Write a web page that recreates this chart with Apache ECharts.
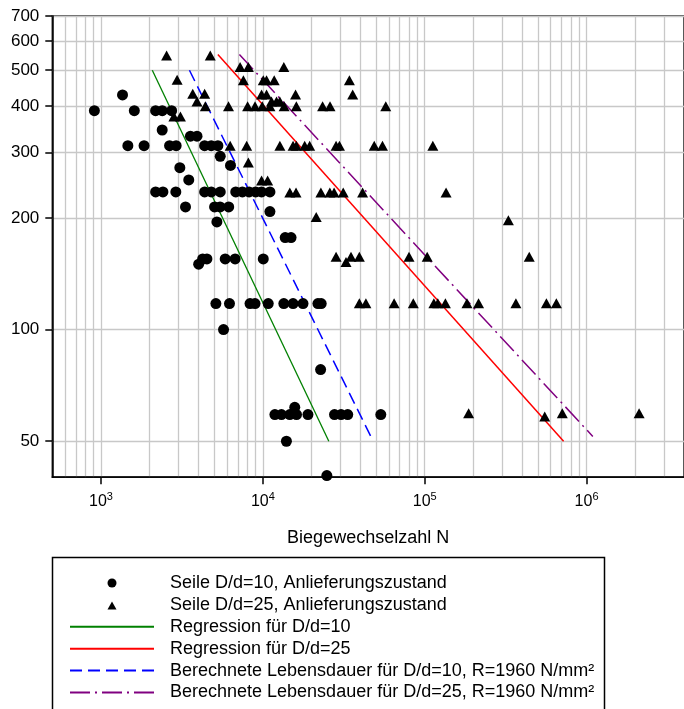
<!DOCTYPE html>
<html><head><meta charset="utf-8">
<script src="https://cdn.jsdelivr.net/npm/echarts@6/dist/echarts.min.js"></script>
<style>html,body{margin:0;padding:0;background:#fff}#c{width:684px;height:709px}</style>
</head><body><div id="c"></div>
<script>
// ---- axis values ----
const xLabelTicks = [1e3, 1e4, 1e5, 1e6];
const xGridValues = [600,700,800,900,
  1000,2000,3000,4000,5000,6000,7000,8000,9000,
  10000,20000,30000,40000,50000,60000,70000,80000,90000,
  100000,200000,300000,400000,500000,600000,700000,800000,900000,
  1000000,2000000,3000000];
const yLabelTicks = [50, 100, 200, 300, 400, 500, 600, 700];

// ---- series names ----
const names = [
  'Seile D/d=10, Anlieferungszustand',
  'Seile D/d=25, Anlieferungszustand',
  'Regression für D/d=10',
  'Regression für D/d=25',
  'Berechnete Lebensdauer für D/d=10, R=1960 N/mm²',
  'Berechnete Lebensdauer für D/d=25, R=1960 N/mm²'
];

// ---- data: [Biegewechselzahl N, stress] ----
const seile10 = [
  [910,389],[1358,429],[1606,389],[2174,389],[2390,389],[2730,389],
  [2388,345],[3568,332],[3918,332],
  [1465,313],[1845,313],[2652,313],[2912,313],[4365,313],[4797,313],[5272,313],
  [5453,293],[6310,277],[3069,273],[3484,253],
  [2175,235],[2412,235],[2899,235],[4368,235],[4801,235],[5453,235],[6798,235],
  [7472,235],[8216,235],[9020,235],[9817,235],[11056,235],
  [3327,214],[5031,214],[5440,214],[6150,214],[11056,208],[5200,195],
  [13740,177],[14930,177],
  [4012,150],[4246,155],[4511,155],[5852,155],[6740,155],[10058,155],
  [5125,117.5],[6220,117.5],[8332,117.5],[8944,117.5],[10792,117.5],[13474,117.5],
  [15369,117.5],[17701,117.5],[21885,117.5],[22932,117.5],
  [5714,100],[22740,78],
  [11867,59],[13024,59],[14671,59],[16140,59],[18990,59],[27710,59],[30420,59],
  [33440,59],[53550,59],[15740,61.7],
  [13980,50],[24850,40.4]
];
const seile25 = [
  [2542,548],[4732,548],[2953,471],[3687,432],[4368,432],[3917,412],
  [2820,375],[3095,375],
  [4411,400],[6133,400],[8050,400],[8944,400],[9915,400],[11056,400],[13534,400],
  [16100,400],[23390,400],[26000,400],[57460,400],
  [7234,510],[8135,510],[13475,510],
  [7580,470],[10058,470],[10537,470],[11749,470],[34250,470],
  [9817,430],[10537,430],[15920,430],[35890,430],
  [11310,412],[12140,412],[12740,412],
  [6281,313],[7943,313],[12740,313],[15370,313],[16100,313],[18130,313],[19460,313],
  [28340,313],[29730,313],[48760,313],[54830,313],[112260,313],
  [8135,282],[9817,252],[10700,252],
  [14670,234],[16030,234],[22830,234],[25930,234],[27550,234],[31370,234],
  [41330,234],[135500,234],
  [21360,201],[328800,197],
  [28340,157],[35040,157],[39450,157],[79980,157],[103600,157],[442400,157],[32640,152],
  [39450,117.7],[43310,117.7],[64710,117.7],[85000,117.7],[113900,117.7],[120500,117.7],
  [134200,117.7],[182400,117.7],[215100,117.7],[366000,117.7],[564900,117.7],[650800,117.7],
  [186800,59.5],[708000,59.5],[2112000,59.5],[551500,58.3]
];
const regression10 = [[2074,500],[25560,50]];
const regression25 = [[5272,551],[721400,50]];
const calc10 = [[3518,500],[46480,51.5]];
const calc25 = [[7163,551],[1093000,51.5]];

const FONT = 'Liberation Sans, Arial, sans-serif';
const GRID = '#c8c8c8';
// legend triangle icon padded to the full legend item box so it is not stretched
const TRI_ICON = 'path://M0,0L0,0ZM84,0L84,0ZM42,1L46.5,9L37.5,9Z';

const chart = echarts.init(document.getElementById('c'), null, {renderer: 'canvas'});
chart.setOption({
  animation: false,
  backgroundColor: '#fff',
  textStyle: {fontFamily: FONT},
  grid: {left: 52.3, right: -4.1, top: 16, bottom: 231.8, show: true,
         borderColor: '#222', borderWidth: 1.5, backgroundColor: 'transparent'},
  xAxis: [{
    type: 'log', logBase: 10, min: 500, max: 4e6,
    axisLine: {show: true, lineStyle: {color: '#000', width: 1.5}},
    axisTick: {show: true, inside: false, length: 7, customValues: xLabelTicks,
               lineStyle: {color: '#000', width: 1.5}},
    axisLabel: {customValues: xLabelTicks, margin: 14, color: '#000',
      formatter: v => '{a|10}{b|' + Math.round(Math.log10(v)) + '}',
      rich: {a: {fontSize: 16, fontFamily: FONT, color: '#000'},
             b: {fontSize: 11, fontFamily: FONT, color: '#000', padding: [0, 0, 9, 0]}}},
    splitLine: {show: false},
    name: 'Biegewechselzahl N', nameLocation: 'middle', nameGap: 52,
    nameTextStyle: {fontSize: 18, color: '#000', fontFamily: FONT}
  }, {
    type: 'log', logBase: 10, min: 500, max: 4e6, position: 'top',
    axisLine: {show: false},
    axisTick: {show: false, customValues: xGridValues},
    axisLabel: {show: false, customValues: xGridValues},
    splitLine: {show: true, lineStyle: {color: GRID, width: 1.3}}
  }],
  yAxis: {
    type: 'log', logBase: 10, min: 40, max: 700,
    axisLine: {show: true, lineStyle: {color: '#000', width: 1.5}},
    axisTick: {show: true, inside: false, length: 7, customValues: yLabelTicks,
               lineStyle: {color: '#000', width: 1.5}},
    axisLabel: {customValues: yLabelTicks, margin: 13, fontSize: 17, color: '#000', fontFamily: FONT},
    splitLine: {show: true, lineStyle: {color: GRID, width: 1.3}}
  },
  legend: {
    orient: 'vertical', left: 64, top: 569, bottom: -80, itemWidth: 84, itemHeight: 9, itemGap: 3.9,
    selectedMode: false, symbolKeepAspect: true,
    textStyle: {fontSize: 18, color: '#000', fontFamily: FONT, padding: [0, 0, 0, 11]},
    data: [
      {name: names[0], icon: 'circle'},
      {name: names[1], icon: TRI_ICON},
      {name: names[2], itemStyle: {opacity: 0}},
      {name: names[3], itemStyle: {opacity: 0}},
      {name: names[4], itemStyle: {opacity: 0}},
      {name: names[5], itemStyle: {opacity: 0}}
    ]
  },
  graphic: [{type: 'rect', shape: {x: 52.5, y: 557.5, width: 552, height: 200},
             style: {fill: 'none', stroke: '#000', lineWidth: 1.5}, silent: true}],
  series: [
    {name: names[0], type: 'scatter', data: seile10, symbol: 'circle', symbolSize: 11,
     symbolKeepAspect: true, itemStyle: {color: '#000', opacity: 1}, z: 5},
    {name: names[1], type: 'scatter', data: seile25, symbol: 'triangle', symbolSize: [11, 10],
     symbolKeepAspect: true, itemStyle: {color: '#000', opacity: 1}, z: 5},
    {name: names[2], type: 'line', data: regression10, symbol: 'none',
     lineStyle: {color: '#008000', width: 1.3}, itemStyle: {color: '#008000'}, z: 4},
    {name: names[3], type: 'line', data: regression25, symbol: 'none',
     lineStyle: {color: '#ff0000', width: 1.5}, itemStyle: {color: '#ff0000'}, z: 4},
    {name: names[4], type: 'line', data: calc10, symbol: 'none',
     lineStyle: {color: '#0000ff', width: 1.5, type: [12, 6]}, itemStyle: {color: '#0000ff'}, z: 4},
    {name: names[5], type: 'line', data: calc25, symbol: 'none',
     lineStyle: {color: '#800080', width: 1.5, type: [20, 5, 2, 5]}, itemStyle: {color: '#800080'}, z: 4}
  ]
});
</script></body></html>
